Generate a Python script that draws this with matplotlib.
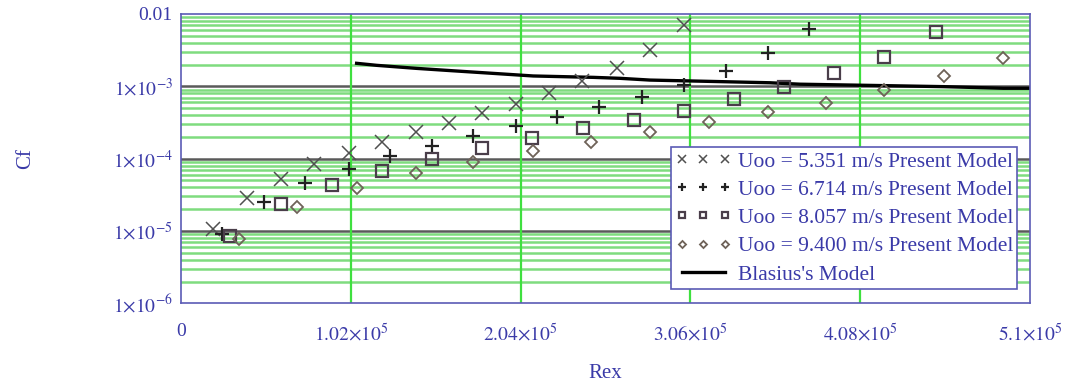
#!/usr/bin/env python3
"""
Skin friction coefficient vs local Reynolds number
Present model at four free-stream velocities compared with Blasius
"""

import numpy as np
import matplotlib
matplotlib.use("Agg")
import matplotlib.pyplot as plt
from matplotlib.ticker import FixedLocator, NullFormatter

# Uoo = 5.351 m/s
rex_1 = [1.90e4, 3.95e4, 6.00e4, 8.00e4, 1.01e5, 1.21e5, 1.41e5, 1.61e5,
         1.81e5, 2.01e5, 2.21e5, 2.41e5, 2.62e5, 2.82e5, 3.02e5]
cf_1 = [1.05e-5, 2.83e-5, 5.2e-5, 8.3e-5, 1.19e-4, 1.71e-4, 2.36e-4, 3.08e-4,
        4.23e-4, 5.7e-4, 8.0e-4, 1.18e-3, 1.77e-3, 3.18e-3, 7.05e-3]

# Uoo = 6.714 m/s
rex_2 = [2.44e4, 4.99e4, 7.45e4, 1.009e5, 1.255e5, 1.508e5, 1.756e5, 2.01e5,
         2.257e5, 2.513e5, 2.771e5, 3.023e5, 3.272e5, 3.524e5, 3.774e5]
cf_2 = [8.97e-6, 2.54e-5, 4.55e-5, 7.1e-5, 1.086e-4, 1.51e-4, 2.06e-4, 2.83e-4,
        3.80e-4, 5.23e-4, 7.05e-4, 1.04e-3, 1.64e-3, 2.92e-3, 6.14e-3]

# Uoo = 8.057 m/s
rex_3 = [2.94e4, 5.99e4, 9.09e4, 1.209e5, 1.51e5, 1.81e5, 2.11e5, 2.413e5,
         2.721e5, 3.023e5, 3.324e5, 3.624e5, 3.924e5, 4.225e5, 4.535e5]
cf_3 = [8.5e-6, 2.33e-5, 4.32e-5, 6.8e-5, 9.8e-5, 1.39e-4, 1.91e-4, 2.63e-4,
        3.42e-4, 4.6e-4, 6.6e-4, 9.7e-4, 1.51e-3, 2.56e-3, 5.69e-3]

# Uoo = 9.400 m/s
rex_4 = [3.48e4, 6.99e4, 1.059e5, 1.41e5, 1.756e5, 2.113e5, 2.463e5, 2.82e5,
         3.172e5, 3.524e5, 3.874e5, 4.225e5, 4.585e5, 4.936e5]
cf_4 = [7.7e-6, 2.12e-5, 3.96e-5, 6.27e-5, 9.06e-5, 1.26e-4, 1.71e-4, 2.36e-4,
        3.18e-4, 4.37e-4, 5.93e-4, 8.9e-4, 1.39e-3, 2.44e-3]

# Blasius line
rex_bl = [1.055e5, 1.176e5, 1.416e5, 1.634e5, 1.934e5, 2.116e5, 2.477e5, 2.637e5,
          2.817e5, 3.178e5, 3.538e5, 3.718e5, 4.579e5, 4.94e5, 5.09e5]
cf_bl = [2.08e-3, 1.95e-3, 1.77e-3, 1.64e-3, 1.48e-3, 1.39e-3, 1.33e-3, 1.29e-3,
         1.22e-3, 1.17e-3, 1.12e-3, 1.07e-3, 0.99e-3, 9.4e-4, 9.4e-4]

labels = ["Uoo = 5.351 m/s Present Model",
          "Uoo = 6.714 m/s Present Model",
          "Uoo = 8.057 m/s Present Model",
          "Uoo = 9.400 m/s Present Model",
          "Blasius's Model"]

x_ticks = [0, 1.02e5, 2.04e5, 3.06e5, 4.08e5, 5.1e5]
x_ticklabels = ["0", r"$1.02{\times}10^{5}$", r"$2.04{\times}10^{5}$",
                r"$3.06{\times}10^{5}$", r"$4.08{\times}10^{5}$", r"$5.1{\times}10^{5}$"]
y_ticks = [1e-6, 1e-5, 1e-4, 1e-3, 1e-2]
y_ticklabels = [r"$1{\times}10^{-6}$", r"$1{\times}10^{-5}$", r"$1{\times}10^{-4}$",
                r"$1{\times}10^{-3}$", "0.01"]

BLUE = "#3a3aa8"
AXBLUE = "#5b5bb5"

plt.rcParams["font.family"] = ["Liberation Serif", "DejaVu Serif"]
plt.rcParams["mathtext.fontset"] = "stix"

fig = plt.figure(figsize=(10.69, 3.92), dpi=100)
ax = fig.add_axes([0.1693, 0.2263, 0.7942, 0.738])
ax.set_yscale("log")
ax.set_xlim(0, 5.1e5)
ax.set_ylim(1e-6, 1e-2)

# grid: light green minor horizontals, gray decades, green verticals
minor_y = [m * 10.0 ** k for k in range(-6, -2) for m in range(2, 10)]
for yv in minor_y:
    ax.axhline(yv, color="#7fdc7f", lw=1.8, zorder=0)
for yv in y_ticks[1:-1]:
    ax.axhline(yv, color="#5a5a5a", lw=1.8, zorder=1)
for xv in x_ticks[1:-1]:
    ax.axvline(xv, color="#3fe03f", lw=1.6, zorder=1)

ax.plot(rex_1, cf_1, ls="none", marker="x", ms=10, mew=1.1, color="#505050", label=labels[0], zorder=3)
ax.plot(rex_2, cf_2, ls="none", marker="+", ms=10, mew=1.6, color="#222222", label=labels[1], zorder=3)
ax.plot(rex_3, cf_3, ls="none", marker="s", ms=8, mew=1.6, mfc="none", color="#4a3e4a", label=labels[2], zorder=3)
ax.plot(rex_4, cf_4, ls="none", marker="D", ms=6, mew=1.3, mfc="none", color="#6e6258", label=labels[3], zorder=3)
ax.plot(rex_bl, cf_bl, color="black", lw=2.4, label=labels[4], zorder=2)

ax.xaxis.set_major_locator(FixedLocator(x_ticks))
ax.set_xticklabels(x_ticklabels)
ax.yaxis.set_major_locator(FixedLocator(y_ticks))
ax.set_yticklabels(y_ticklabels)
ax.yaxis.set_minor_formatter(NullFormatter())
ax.tick_params(which="both", length=0, colors=BLUE, labelsize=14)
ax.tick_params(axis="x", pad=14)
ax.tick_params(axis="y", pad=6)

for sp in ax.spines.values():
    sp.set_color(AXBLUE)
    sp.set_linewidth(1.2)

ax.set_xlabel("Rex", color=BLUE, fontsize=15, labelpad=14)
ax.set_ylabel("Cf", color=BLUE, fontsize=15, labelpad=56)

leg = ax.legend(loc="lower right", bbox_to_anchor=(0.985, 0.05), fontsize=15.5,
                numpoints=3, markerscale=0.6, handlelength=2.6, handletextpad=0.3,
                borderpad=0.2, labelspacing=0.38, fancybox=False, framealpha=1,
                borderaxespad=0)
leg.get_frame().set_edgecolor(AXBLUE)
leg.get_frame().set_linewidth(1.2)
for t in leg.get_texts():
    t.set_color(BLUE)

fig.savefig("out.png", dpi=100)
